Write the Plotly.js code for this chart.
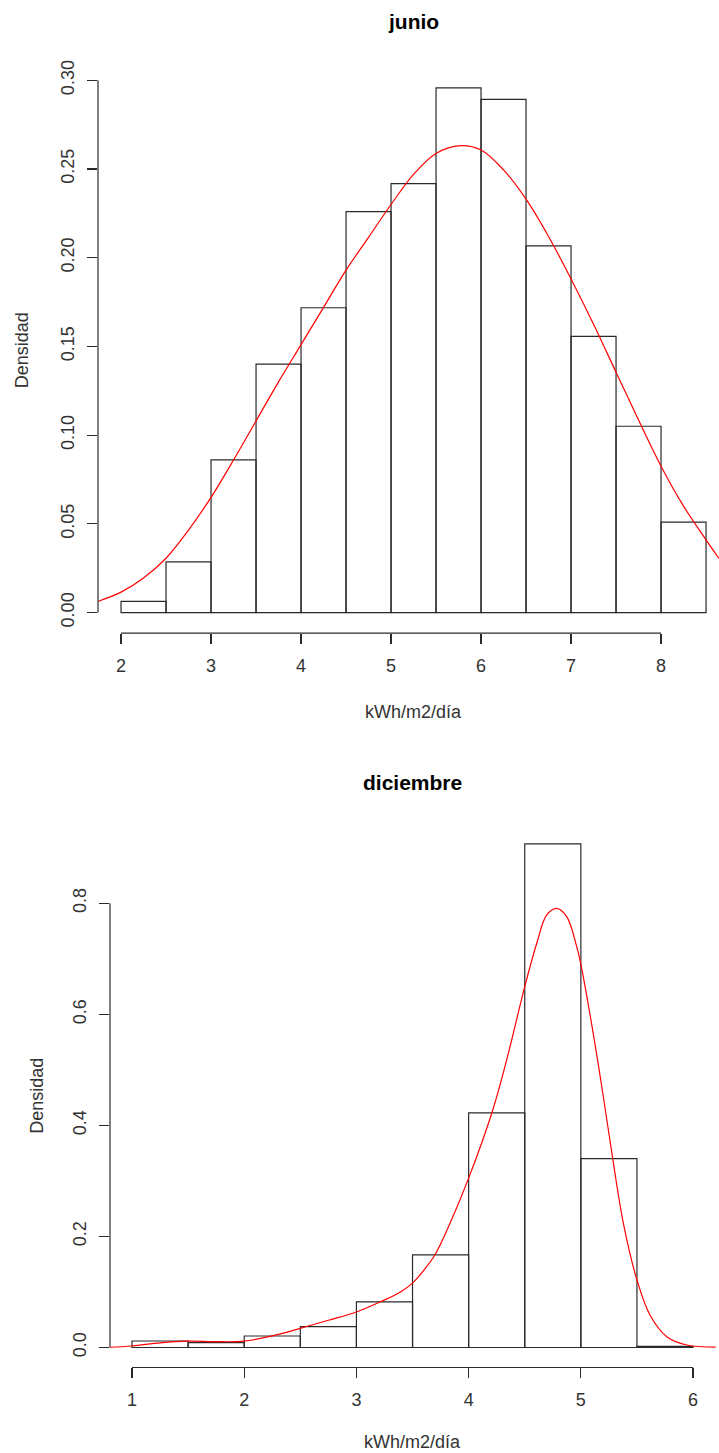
<!DOCTYPE html>
<html>
<head>
<meta charset="utf-8">
<script src="https://cdn.plot.ly/plotly-3.0.1.min.js"></script>
<style>
  html, body { margin: 0; padding: 0; background: #ffffff; }
  #chart { width: 719px; height: 1453px; }
</style>
</head>
<body>
<div id="chart"></div>
<script>
// ---------- data: junio ----------
const junBreaks = [2, 2.5, 3, 3.5, 4, 4.5, 5, 5.5, 6, 6.5, 7, 7.5, 8, 8.5];
const junDensity = [0.0063, 0.0286, 0.0860, 0.1400, 0.1718, 0.2260, 0.2417, 0.2957, 0.2892, 0.2067, 0.1557, 0.1050, 0.0510];
const junCurveX = [1.748, 2.0, 2.25, 2.5, 2.75, 3.0, 3.25, 3.5, 3.75, 4.0, 4.25, 4.5, 4.75, 5.0, 5.25, 5.5, 5.77, 6.0, 6.25, 6.5, 6.75, 7.0, 7.25, 7.5, 7.75, 8.0, 8.25, 8.5, 8.644];
const junCurveY = [0.0064, 0.0115, 0.0195, 0.0306, 0.0465, 0.0649, 0.0860, 0.1080, 0.1300, 0.1510, 0.1720, 0.1930, 0.2115, 0.2300, 0.2470, 0.2588, 0.2632, 0.2607, 0.2495, 0.2330, 0.2120, 0.1880, 0.1625, 0.1355, 0.1085, 0.0825, 0.0600, 0.0410, 0.0305];
const junXTicks = [2, 3, 4, 5, 6, 7, 8];
const junYTicks = [0, 0.05, 0.10, 0.15, 0.20, 0.25, 0.30];
const junYTickText = ["0.00", "0.05", "0.10", "0.15", "0.20", "0.25", "0.30"];

// ---------- data: diciembre ----------
const decBreaks = [1, 1.5, 2, 2.5, 3, 3.5, 4, 4.5, 5, 5.5, 6];
const decDensity = [0.0117, 0.0087, 0.0207, 0.0375, 0.0821, 0.1669, 0.4225, 0.9070, 0.3400, 0.0020];
const decCurveX = [0.804, 1.0, 1.25, 1.5, 1.75, 2.0, 2.25, 2.5, 2.75, 3.0, 3.21, 3.389, 3.5, 3.6, 3.7, 3.834, 4.0, 4.206, 4.339, 4.5, 4.607, 4.696, 4.785, 4.874, 4.963, 5.0, 5.111, 5.2, 5.284, 5.379, 5.5, 5.617, 5.766, 5.944, 6.205];
const decCurveY = [0.0005, 0.0027, 0.0085, 0.0115, 0.0105, 0.0115, 0.0210, 0.0345, 0.0490, 0.0640, 0.0820, 0.0996, 0.1160, 0.1390, 0.1670, 0.2237, 0.3050, 0.4218, 0.5180, 0.6500, 0.7280, 0.7790, 0.7910, 0.7760, 0.7220, 0.6900, 0.5650, 0.4520, 0.3400, 0.2237, 0.1216, 0.0580, 0.0195, 0.0045, 0.0006];
const decXTicks = [1, 2, 3, 4, 5, 6];
const decYTicks = [0, 0.2, 0.4, 0.6, 0.8];
const decYTickText = ["0.0", "0.2", "0.4", "0.6", "0.8"];

const titles = ["junio", "diciembre"];
const xTitle = "kWh/m2/día";
const yTitle = "Densidad";

// ---------- helpers ----------
function centers(b) { const c = []; for (let i = 0; i < b.length - 1; i++) c.push((b[i] + b[i + 1]) / 2); return c; }
function widths(b) { const w = []; for (let i = 0; i < b.length - 1; i++) w.push(b[i + 1] - b[i]); return w; }

const FONT = "Liberation Sans, Arial, Helvetica, sans-serif";
const TXT = "#333333";
const LINE = "#2a2a2a";

const traces = [
  { type: "bar", x: centers(junBreaks), y: junDensity, width: widths(junBreaks),
    marker: { color: "rgba(0,0,0,0)", line: { color: LINE, width: 1.2 } },
    xaxis: "x", yaxis: "y", hoverinfo: "skip" },
  { type: "scatter", mode: "lines", x: junCurveX, y: junCurveY,
    line: { color: "#ff0000", width: 1.2, shape: "spline", smoothing: 1 },
    xaxis: "x", yaxis: "y", hoverinfo: "skip" },
  { type: "bar", x: centers(decBreaks), y: decDensity, width: widths(decBreaks),
    marker: { color: "rgba(0,0,0,0)", line: { color: LINE, width: 1.2 } },
    xaxis: "x2", yaxis: "y2", hoverinfo: "skip" },
  { type: "scatter", mode: "lines", x: decCurveX, y: decCurveY,
    line: { color: "#ff0000", width: 1.2, shape: "spline", smoothing: 1 },
    xaxis: "x2", yaxis: "y2", hoverinfo: "skip" }
];

function xAxis(range, domain, ticks, anchor) {
  return { range: range, domain: domain, anchor: anchor, tickmode: "array", tickvals: ticks,
    ticktext: ticks.map(String), ticks: "outside", ticklen: 10, tickwidth: 1.2, tickcolor: LINE,
    showline: false, showgrid: false, zeroline: false, fixedrange: true,
    ticklabelstandoff: 6,
    tickfont: { family: FONT, size: 18, color: TXT } };
}
function yAxis(range, domain, ticks, text, anchor) {
  return { range: range, domain: domain, anchor: anchor, tickmode: "array", tickvals: ticks,
    ticktext: text, ticks: "outside", ticklen: 10, tickwidth: 1.2, tickcolor: LINE, tickangle: -90,
    showline: false, showgrid: false, zeroline: false, fixedrange: true,
    ticklabelstandoff: 6,
    tickfont: { family: FONT, size: 18, color: TXT } };
}

const layout = {
  width: 719, height: 1453,
  margin: { l: 0, r: 0, t: 0, b: 0 },
  paper_bgcolor: "#ffffff", plot_bgcolor: "#ffffff",
  showlegend: false, barmode: "overlay", bargap: 0,
  xaxis: xAxis([1.744, 8.644], [0.1363, 1.0], junXTicks, "y"),
  yaxis: yAxis([-0.01156, 0.3075], [0.5643, 0.9539], junYTicks, junYTickText, "x"),
  xaxis2: xAxis([0.804, 6.201], [0.1530, 0.9953], decXTicks, "y2"),
  yaxis2: yAxis([-0.036, 0.9428], [0.05885, 0.4329], decYTicks, decYTickText, "x2"),
  shapes: [
    { type: "line", xref: "x", yref: "y domain", x0: junXTicks[0], x1: junXTicks[junXTicks.length - 1], y0: 0, y1: 0, line: { color: LINE, width: 1.2 } },
    { type: "line", xref: "x domain", yref: "y", x0: 0, x1: 0, y0: junYTicks[0], y1: junYTicks[junYTicks.length - 1], line: { color: LINE, width: 1.2 } },
    { type: "line", xref: "x2", yref: "y2 domain", x0: decXTicks[0], x1: decXTicks[decXTicks.length - 1], y0: 0, y1: 0, line: { color: LINE, width: 1.2 } },
    { type: "line", xref: "x2 domain", yref: "y2", x0: 0, x1: 0, y0: decYTicks[0], y1: decYTicks[decYTicks.length - 1], line: { color: LINE, width: 1.2 } }
  ],
  annotations: [
    { text: "<b>" + titles[0] + "</b>", xref: "x", yref: "paper", x: (junBreaks[0] + junBreaks[junBreaks.length - 1]) / 2, y: 0.9849,
      xanchor: "center", yanchor: "middle", showarrow: false, font: { family: FONT, size: 21, color: "#000000" } },
    { text: xTitle, xref: "x", yref: "paper", x: (junBreaks[0] + junBreaks[junBreaks.length - 1]) / 2, y: 0.5100,
      xanchor: "center", yanchor: "middle", showarrow: false, font: { family: FONT, size: 18, color: TXT } },
    { text: yTitle, xref: "paper", yref: "y", x: 22 / 719, y: (junYTicks[0] + 0.2957) / 2, textangle: -90,
      xanchor: "center", yanchor: "middle", showarrow: false, font: { family: FONT, size: 18, color: TXT } },
    { text: "<b>" + titles[1] + "</b>", xref: "x2", yref: "paper", x: (decBreaks[0] + decBreaks[decBreaks.length - 1]) / 2, y: 0.4618,
      xanchor: "center", yanchor: "middle", showarrow: false, font: { family: FONT, size: 21, color: "#000000" } },
    { text: xTitle, xref: "x2", yref: "paper", x: (decBreaks[0] + decBreaks[decBreaks.length - 1]) / 2, y: 0.0076,
      xanchor: "center", yanchor: "middle", showarrow: false, font: { family: FONT, size: 18, color: TXT } },
    { text: yTitle, xref: "paper", yref: "y2", x: 37 / 719, y: (decYTicks[0] + 0.907) / 2, textangle: -90,
      xanchor: "center", yanchor: "middle", showarrow: false, font: { family: FONT, size: 18, color: TXT } }
  ]
};

Plotly.newPlot("chart", traces, layout, { staticPlot: true, displayModeBar: false, responsive: false });
</script>
</body>
</html>
